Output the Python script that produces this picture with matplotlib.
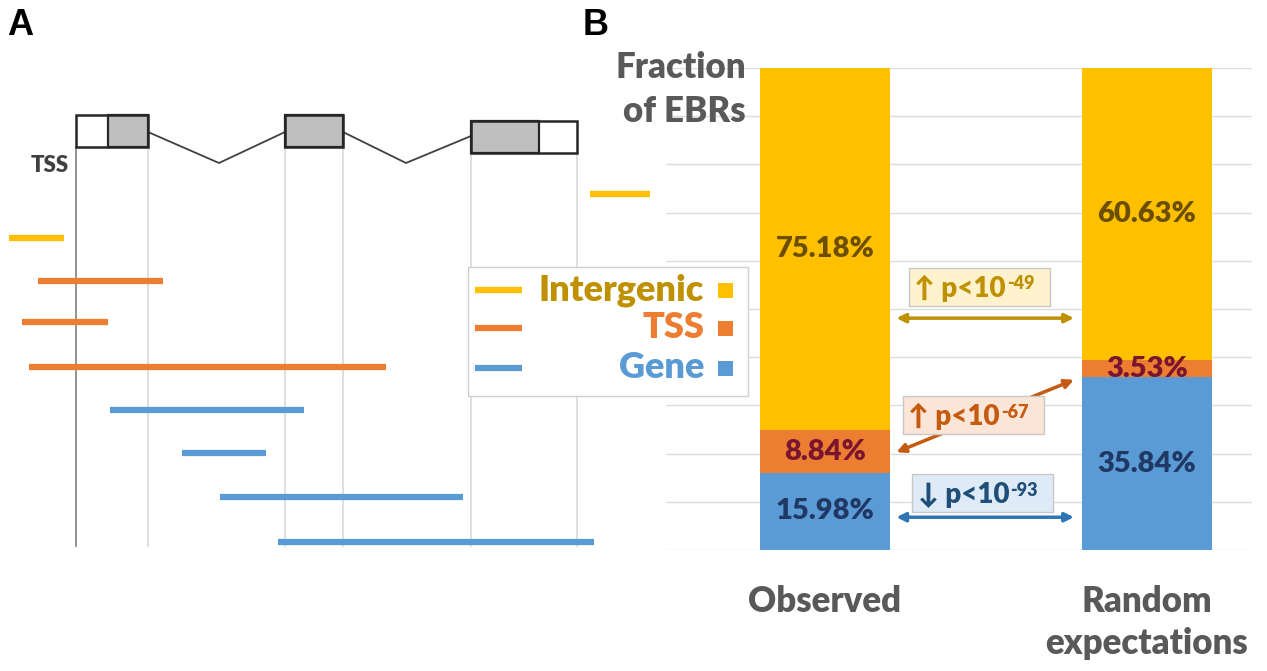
import matplotlib
matplotlib.use('Agg')
import matplotlib.pyplot as plt
from matplotlib.patches import Rectangle

plt.rcParams['font.family'] = ['Lato', 'DejaVu Sans']

GOLD = '#FFC000'
ORANGE = '#ED7D31'
BLUE = '#5B9BD5'
GREY_TXT = '#595959'
HEAVY = 'heavy'

# ---- panel B data (percent of EBRs) ----
groups = ['Observed', 'Random\nexpectations']
gene_pct = [15.98, 35.84]
tss_pct = [8.84, 3.53]
intergenic_pct = [75.18, 60.63]

# significance annotations
p_dirs = ['\u2191', '\u2191', '\u2193']
p_exps = ['-49', '-67', '-93']
arrow_y_obs = [48.1, 20.3, 6.8]
arrow_y_rnd = [48.1, 35.3, 6.8]
p_box_y = [54.6, 28.0, 11.8]
p_box_x = [0.48, 0.46, 0.49]
p_text_col = ['#BF9000', '#C55A11', '#1F4E79']
p_arrow_col = ['#BF9000', '#C55A11', '#2E75B6']
p_box_col = ['#FFF2CC', '#FBE5D6', '#DEEBF7']

# ---- panel A schematic (drawing units = pixels of panel) ----
seg_start = [590, 9, 38, 22, 29, 110, 182, 220, 278]
seg_end = [650, 64, 163, 108, 386, 304, 266, 463, 594]
seg_row = [194, 238, 281, 322, 367, 410, 453, 497, 542]
seg_kind = ['Intergenic', 'Intergenic', 'TSS', 'TSS', 'TSS',
            'Gene', 'Gene', 'Gene', 'Gene']
kind_color = {'Intergenic': GOLD, 'TSS': ORANGE, 'Gene': BLUE}

# exons: (start, end, coding start, coding end, top, bottom)
exons = [(76, 148, 108, 148, 115, 147),
         (285, 343, 285, 343, 115, 147),
         (471, 577, 471, 539, 121, 153)]
intron_x = [[148, 219, 285], [343, 406, 471]]
intron_y = [[132, 163, 132], [132, 163, 136]]
guide_x = [76, 148, 285, 343, 471, 577]
guide_top = [147, 147, 147, 147, 153, 153]
guide_bottom = 546

legend_kinds = ['Intergenic', 'TSS', 'Gene']
legend_txt_col = ['#BF9000', ORANGE, BLUE]
legend_rows = [290, 328, 368]

fig = plt.figure(figsize=(12.67, 6.71), dpi=100)

# ---------------- panel B ----------------
W, H = 1267, 671
ax_b = fig.add_axes([666 / W, 121 / H, 586 / W, 482 / H])
ax_b.set_zorder(1)
x = [0, 1]
bw = 0.4037
bottom2 = [g + t for g, t in zip(gene_pct, tss_pct)]
b1 = ax_b.bar(x, gene_pct, bw, color=BLUE, zorder=2)
b2 = ax_b.bar(x, tss_pct, bw, bottom=gene_pct, color=ORANGE, zorder=2)
b3 = ax_b.bar(x, intergenic_pct, bw, bottom=bottom2, color=GOLD, zorder=2)

lab_kw = dict(label_type='center', fontsize=21, fontweight=HEAVY)
ax_b.bar_label(b1, labels=[f'{v:.2f}%' for v in gene_pct], color='#1F3864', **lab_kw)
ax_b.bar_label(b2, labels=[f'{v:.2f}%' for v in tss_pct], color='#7A1530', **lab_kw)
ax_b.bar_label(b3, labels=[f'{v:.2f}%' for v in intergenic_pct], color='#6B4E00', **lab_kw)

ax_b.set_xlim(-0.4937, 1.3263)
ax_b.set_ylim(0, 100)
ax_b.set_yticks(range(0, 101, 10))
ax_b.yaxis.grid(True, color='#DDDDDD', lw=1)
ax_b.set_axisbelow(True)
for sp in ax_b.spines.values():
    sp.set_visible(False)
ax_b.tick_params(left=False, labelleft=False, bottom=False)
ax_b.set_xticks(x)
ax_b.set_xticklabels(groups, fontsize=25, fontweight=HEAVY, color=GREY_TXT,
                     linespacing=1.32)
ax_b.tick_params(axis='x', pad=22)

ax_b.text(0.1365, 1.035, 'Fraction\nof EBRs', transform=ax_b.transAxes,
          ha='right', va='top', fontsize=25, fontweight=HEAVY,
          color=GREY_TXT, linespacing=1.4)

for i in range(3):
    ax_b.annotate('', xy=(1 - bw / 2 - 0.025, arrow_y_rnd[i]),
                  xytext=(bw / 2 + 0.02, arrow_y_obs[i]),
                  arrowprops=dict(arrowstyle='<|-|>', color=p_arrow_col[i],
                                  lw=2.5, mutation_scale=13,
                                  shrinkA=0, shrinkB=0), zorder=3)
    ax_b.add_patch(Rectangle((p_box_x[i] - 0.219, p_box_y[i] - 3.95), 0.438, 7.9,
                             fc=p_box_col[i], ec='#C8C8C8', lw=1, zorder=4))
    t = ax_b.text(p_box_x[i] - 0.06, p_box_y[i] - 0.3, f'{p_dirs[i]} p<10',
                  ha='center', va='center', fontsize=20, fontweight=HEAVY,
                  color=p_text_col[i], zorder=5)
    ax_b.annotate(p_exps[i], xy=(1, 1), xycoords=t, xytext=(1, -0.5),
                  textcoords='offset points', ha='left', va='top',
                  fontsize=13, fontweight=HEAVY, color=p_text_col[i], zorder=5)

# ---------------- panel A (overlay in pixel units) ----------------
ax_a = fig.add_axes([0, 0, 1, 1])
ax_a.set_zorder(3)
ax_a.set_xlim(0, W)
ax_a.set_ylim(H, 0)
ax_a.axis('off')

for gx, gt in zip(guide_x, guide_top):
    c = '#808080' if gx == guide_x[0] else '#D9D9D9'
    ax_a.plot([gx, gx], [gt, guide_bottom], color=c, lw=1.2, zorder=1)

for xs, ys in zip(intron_x, intron_y):
    ax_a.plot(xs, ys, color='#404040', lw=1.3, zorder=2)

for s, e, cs, ce, top, bot in exons:
    ax_a.add_patch(Rectangle((s, top), e - s, bot - top, fc='white', ec='none', zorder=3))
    ax_a.add_patch(Rectangle((cs, top), ce - cs, bot - top, fc='#BFBFBF', ec='#262626',
                             lw=1.6, zorder=3))
    ax_a.add_patch(Rectangle((s, top), e - s, bot - top, fc='none', ec='#262626',
                             lw=1.8, zorder=4))

ax_a.text(69, 165, 'TSS', ha='right', va='center', fontsize=16,
          fontweight=HEAVY, color='#404040')

for s, e, r, k in zip(seg_start, seg_end, seg_row, seg_kind):
    ax_a.plot([s, e], [r, r], color=kind_color[k], lw=4.5,
              solid_capstyle='butt', zorder=5)

# legend box
ax_a.add_patch(Rectangle((468, 267), 280, 129, fc='white', ec='#D0D0D0',
                         lw=1, zorder=6))
for k, tc, ry in zip(legend_kinds, legend_txt_col, legend_rows):
    ax_a.plot([475, 522], [ry, ry], color=kind_color[k], lw=4.5,
              solid_capstyle='butt', zorder=7)
    ax_a.text(704, ry, k, ha='right', va='center', fontsize=26,
              fontweight=HEAVY, color=tc, zorder=7)
    ax_a.add_patch(Rectangle((718, ry - 7.5), 15, 15, fc=kind_color[k],
                             ec='none', zorder=7))

# panel letters
ax_a.text(7, 8, 'A', ha='left', va='top', fontsize=26, fontweight='bold',
          family='Liberation Sans', color='black')
ax_a.text(583, 8, 'B', ha='left', va='top', fontsize=26, fontweight='bold',
          family='Liberation Sans', color='black')

fig.savefig('out.png', dpi=100)
